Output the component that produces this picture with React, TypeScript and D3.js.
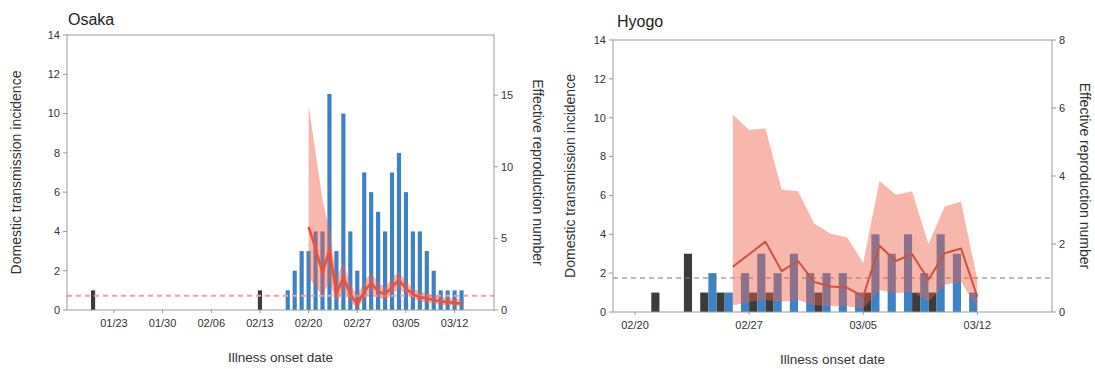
import React from 'react';
import * as d3 from 'd3';

const W = 1095;
const H = 369;

// ---------- Osaka ----------
const osakaImportedDates = ['2020-01-20', '2020-02-13'];
const osakaImportedCases = [1, 1];

const osakaDomesticDates = [
  '2020-02-17', '2020-02-18', '2020-02-19', '2020-02-20', '2020-02-21', '2020-02-22',
  '2020-02-23', '2020-02-24', '2020-02-25', '2020-02-26', '2020-02-27', '2020-02-28',
  '2020-02-29', '2020-03-01', '2020-03-02', '2020-03-03', '2020-03-04', '2020-03-05',
  '2020-03-06', '2020-03-07', '2020-03-08', '2020-03-09', '2020-03-10', '2020-03-11',
  '2020-03-12', '2020-03-13',
];
const osakaDomesticCases = [1, 2, 3, 3, 4, 4, 11, 3, 10, 4, 2, 7, 6, 5, 4, 7, 8, 6, 4, 4, 3, 2, 1, 1, 1, 1];

const osakaRtDates = [
  '2020-02-20', '2020-02-21', '2020-02-22', '2020-02-23', '2020-02-24', '2020-02-25',
  '2020-02-26', '2020-02-27', '2020-02-28', '2020-02-29', '2020-03-01', '2020-03-02',
  '2020-03-03', '2020-03-04', '2020-03-05', '2020-03-06', '2020-03-07', '2020-03-08',
  '2020-03-09', '2020-03-10', '2020-03-11', '2020-03-12', '2020-03-13',
];
const osakaRt = [5.8, 4.3, 2.6, 4.2, 1.1, 2.3, 1.1, 0.4, 1.3, 1.9, 1.3, 1.1, 1.6, 2.1, 1.5, 1.1, 0.9, 0.8, 0.7, 0.6, 0.55, 0.5, 0.45];
const osakaRtUpper = [14.3, 11.0, 7.7, 5.6, 2.3, 3.3, 1.8, 1.0, 2.0, 2.6, 1.9, 1.6, 2.2, 2.7, 2.0, 1.5, 1.3, 1.2, 1.0, 0.9, 0.85, 0.8, 0.75];
const osakaRtLower = [2.3, 1.6, 1.0, 2.0, 0.5, 1.4, 0.6, 0.1, 0.8, 1.3, 0.9, 0.7, 1.1, 1.5, 1.1, 0.8, 0.6, 0.5, 0.45, 0.35, 0.3, 0.3, 0.25];

const osakaTicks = ['2020-01-23', '2020-01-30', '2020-02-06', '2020-02-13', '2020-02-20', '2020-02-27', '2020-03-05', '2020-03-12'];
const osakaRightTicks = [0, 5, 10, 15];

// ---------- Hyogo ----------
const hyogoImportedDates = [
  '2020-02-21', '2020-02-23', '2020-02-24', '2020-02-25', '2020-02-27',
  '2020-02-28', '2020-03-02', '2020-03-05', '2020-03-08', '2020-03-09',
];
const hyogoImportedCases = [1, 3, 1, 1, 1, 1, 1, 1, 1, 1];

const hyogoDomesticDates = [
  '2020-02-24', '2020-02-25', '2020-02-26', '2020-02-27', '2020-02-28', '2020-02-29',
  '2020-03-01', '2020-03-02', '2020-03-03', '2020-03-04', '2020-03-05', '2020-03-06',
  '2020-03-07', '2020-03-08', '2020-03-09', '2020-03-10', '2020-03-11',
];
const hyogoDomesticCases = [2, 1, 2, 3, 2, 3, 2, 2, 2, 1, 4, 3, 4, 2, 4, 3, 1];

const hyogoRtDates = [
  '2020-02-26', '2020-02-27', '2020-02-28', '2020-02-29', '2020-03-01', '2020-03-02',
  '2020-03-03', '2020-03-04', '2020-03-05', '2020-03-06', '2020-03-07', '2020-03-08',
  '2020-03-09', '2020-03-10', '2020-03-11', '2020-03-12',
];
const hyogoRt = [1.33, 1.7, 2.07, 1.2, 1.5, 0.88, 0.75, 0.72, 0.45, 1.95, 1.5, 1.7, 0.95, 1.73, 1.87, 0.45];
const hyogoRtUpper = [5.8, 5.35, 5.4, 3.6, 3.55, 2.6, 2.3, 2.2, 1.45, 3.85, 3.45, 3.55, 2.0, 3.1, 3.25, 0.95];
const hyogoRtLower = [0.2, 0.3, 0.35, 0.3, 0.35, 0.2, 0.18, 0.17, 0.1, 0.65, 0.55, 0.6, 0.3, 0.8, 0.9, 0.1];

const hyogoTicks = ['2020-02-20', '2020-02-27', '2020-03-05', '2020-03-12'];
const hyogoRightTicks = [0, 2, 4, 6, 8];

const leftTicks = [0, 2, 4, 6, 8, 10, 12, 14];

const parse = d3.timeParse('%Y-%m-%d');
const fmt = d3.timeFormat('%m/%d');
const DAY = 86400000;

const FONT = '"Liberation Sans", Arial, sans-serif';
const AXIS = '#9a9a9a';
const TEXT = '#333';
const BLUE = '#3f82c4';
const DARK = '#3b3b3b';

type PanelProps = {
  title: string;
  titlePos: [number, number];
  x0: number; x1: number; yTop: number; yBottom: number;
  domain: [Date, Date];
  rightMax: number;
  rightTicks: number[];
  ticks: string[];
  impDates: string[]; impCases: number[];
  domDates: string[]; domCases: number[];
  rtDates: string[]; rt: number[]; rtLo: number[]; rtHi: number[];
  dodge: boolean;
  lineColor: string; lineWidth: number;
  refColor: string; refWidth: number;
  leftTitleX: number; rightTitleX: number;
};

function Panel(p: PanelProps) {
  const x = d3.scaleTime().domain(p.domain).range([p.x0, p.x1]);
  const y = d3.scaleLinear().domain([0, 14]).range([p.yBottom, p.yTop]);
  const yR = d3.scaleLinear().domain([0, p.rightMax]).range([p.yBottom, p.yTop]);

  const dayW = (d: Date) => x(new Date(+d + DAY)) - x(d);

  // imported cases sit in the left half of a day, domestic cases in the right half (dodged),
  // or a single slim bar centred on the day
  const barRect = (ds: string, v: number, kind: 'imp' | 'dom', key: string) => {
    const d = parse(ds)!;
    const w = dayW(d);
    let left: number, bw: number;
    if (p.dodge) {
      bw = w / 2;
      left = kind === 'imp' ? x(d) : x(d) + bw;
    } else {
      bw = w * 0.6;
      left = x(d) - bw / 2;
    }
    return (
      <rect key={key} x={left} width={bw} y={y(v)} height={y(0) - y(v)}
        fill={kind === 'imp' ? DARK : BLUE} />
    );
  };

  const rtRows = p.rtDates.map((ds, i) => ({ d: parse(ds)!, r: p.rt[i], lo: p.rtLo[i], hi: p.rtHi[i] }));
  const area = d3.area<typeof rtRows[number]>()
    .x((r) => x(r.d)).y0((r) => yR(r.lo)).y1((r) => yR(r.hi));
  const line = d3.line<typeof rtRows[number]>().x((r) => x(r.d)).y((r) => yR(r.r));

  const midX = (p.x0 + p.x1) / 2;
  const midY = (p.yTop + p.yBottom) / 2;

  return (
    <g fontFamily={FONT}>
      <text x={p.titlePos[0]} y={p.titlePos[1]} fontSize={16} fill="#222">{p.title}</text>

      {p.impDates.map((ds, i) => barRect(ds, p.impCases[i], 'imp', 'i' + i))}
      {p.domDates.map((ds, i) => barRect(ds, p.domCases[i], 'dom', 'd' + i))}

      <line x1={p.x0} x2={p.x1} y1={yR(1)} y2={yR(1)} stroke={p.refColor}
        strokeWidth={p.refWidth} strokeDasharray="5,4" />

      <path d={area(rtRows) || ''} fill="rgb(240,95,70)" fillOpacity={0.45} />
      <path d={line(rtRows) || ''} fill="none" stroke={p.lineColor} strokeWidth={p.lineWidth}
        strokeLinejoin="round" />

      {/* frame */}
      <rect x={p.x0} y={p.yTop} width={p.x1 - p.x0} height={p.yBottom - p.yTop}
        fill="none" stroke={AXIS} strokeWidth={1} />

      {/* left axis */}
      {leftTicks.map((t) => (
        <g key={'l' + t}>
          <line x1={p.x0 - 4} x2={p.x0} y1={y(t)} y2={y(t)} stroke={AXIS} />
          <text x={p.x0 - 7} y={y(t)} dy="0.35em" textAnchor="end" fontSize={11} fill={TEXT}>{t}</text>
        </g>
      ))}
      {/* right axis */}
      {p.rightTicks.map((t) => (
        <g key={'r' + t}>
          <line x1={p.x1} x2={p.x1 + 4} y1={yR(t)} y2={yR(t)} stroke={AXIS} />
          <text x={p.x1 + 7} y={yR(t)} dy="0.35em" textAnchor="start" fontSize={11} fill={TEXT}>{t}</text>
        </g>
      ))}
      {/* bottom axis */}
      {p.ticks.map((ds) => {
        const d = parse(ds)!;
        return (
          <g key={'x' + ds}>
            <line x1={x(d)} x2={x(d)} y1={p.yBottom} y2={p.yBottom + 3} stroke={AXIS} />
            <text x={x(d)} y={p.yBottom + 17} textAnchor="middle" fontSize={11} fill={TEXT}>{fmt(d)}</text>
          </g>
        );
      })}

      <text transform={`translate(${p.leftTitleX},${midY}) rotate(-90)`} textAnchor="middle"
        fontSize={14} fill={TEXT}>Domestic transmission incidence</text>
      <text transform={`translate(${p.rightTitleX},${midY}) rotate(90)`} textAnchor="middle"
        fontSize={14} fill={TEXT}>Effective reproduction number</text>
      <text x={midX} y={p.yBottom + 52} textAnchor="middle" fontSize={13.5} fill={TEXT}>Illness onset date</text>
    </g>
  );
}

export default function App() {
  return (
    <svg width={W} height={H} style={{ position: 'absolute', left: 0, top: 0, background: '#fff' }}>
      <Panel
        title="Osaka" titlePos={[68, 25]}
        x0={67} x1={494} yTop={35} yBottom={310}
        domain={[new Date(2020, 0, 16, 6), new Date(2020, 2, 17, 16)]}
        rightMax={19.2} rightTicks={osakaRightTicks} ticks={osakaTicks}
        impDates={osakaImportedDates} impCases={osakaImportedCases}
        domDates={osakaDomesticDates} domCases={osakaDomesticCases}
        rtDates={osakaRtDates} rt={osakaRt} rtLo={osakaRtLower} rtHi={osakaRtUpper}
        dodge={false} lineColor="#ee5040" lineWidth={2.6} refColor="#f2a0a0" refWidth={2}
        leftTitleX={21} rightTitleX={533}
      />
      <Panel
        title="Hyogo" titlePos={[617, 27]}
        x0={613} x1={1052} yTop={40} yBottom={312}
        domain={[new Date(2020, 1, 18, 15, 36), new Date(2020, 2, 16, 14)]}
        rightMax={8} rightTicks={hyogoRightTicks} ticks={hyogoTicks}
        impDates={hyogoImportedDates} impCases={hyogoImportedCases}
        domDates={hyogoDomesticDates} domCases={hyogoDomesticCases}
        rtDates={hyogoRtDates} rt={hyogoRt} rtLo={hyogoRtLower} rtHi={hyogoRtUpper}
        dodge={true} lineColor="#c9533e" lineWidth={2} refColor="#7a7a7a" refWidth={1.2}
        leftTitleX={575} rightTitleX={1080}
      />
    </svg>
  );
}
